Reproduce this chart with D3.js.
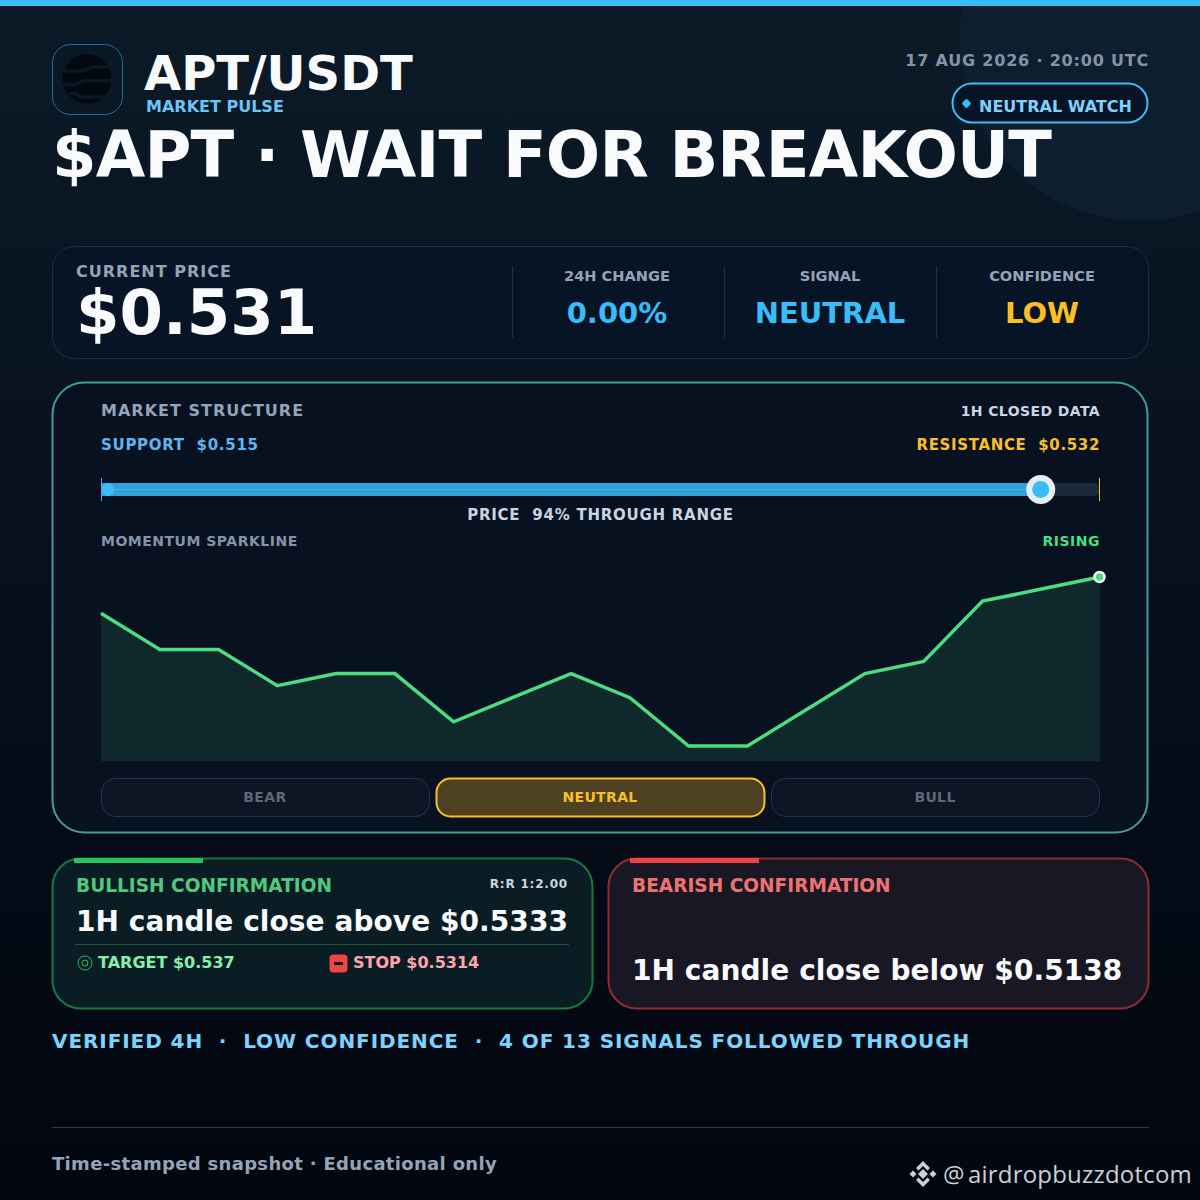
<!DOCTYPE html>
<html>
<head>
<meta charset="utf-8">
<style>
html, body { margin: 0; padding: 0; background: #02060f; }
svg { display: block; }
text { font-family: "DejaVu Sans", sans-serif; font-weight: 700; }
</style>
<script src="https://cdn.jsdelivr.net/npm/d3@7/dist/d3.min.js"></script>
</head>
<body>
<div id="chart"></div>
<script>
"use strict";
const width = 1200, height = 1200;

// values
const momentum = [0.5295, 0.528, 0.528, 0.5265, 0.527, 0.527, 0.525, 0.526, 0.527,
                  0.526, 0.524, 0.524, 0.5255, 0.527, 0.5275, 0.53, 0.5305, 0.531];
const support = 0.515;
const resistance = 0.532;
const price = 0.531;

const statLabels = ["24H CHANGE", "SIGNAL", "CONFIDENCE"];
const statValues = ["0.00%", "NEUTRAL", "LOW"];
const statColors = ["#38bdf8", "#38bdf8", "#fbbf24"];
const statX = [617, 830, 1042];

const signalLabels = ["BEAR", "NEUTRAL", "BULL"];
const signalActive = [false, true, false];

const svg = d3.select("#chart").append("svg")
    .attr("width", width)
    .attr("height", height);

const defs = svg.append("defs");

const bg = defs.append("linearGradient").attr("id", "bg")
    .attr("x1", 0).attr("y1", 0).attr("x2", 0).attr("y2", 1);
bg.append("stop").attr("offset", "0%").attr("stop-color", "#0c1a28");
bg.append("stop").attr("offset", "45%").attr("stop-color", "#07101d");
bg.append("stop").attr("offset", "100%").attr("stop-color", "#02060f");

const frame = defs.append("linearGradient").attr("id", "frame")
    .attr("x1", 0).attr("y1", 0).attr("x2", 0).attr("y2", 1);
frame.append("stop").attr("offset", "0%").attr("stop-color", "#3f9c9c");
frame.append("stop").attr("offset", "100%").attr("stop-color", "#4a9a94");

function label(g, x, y, str, size, fill, opts = {}) {
    return g.append("text")
        .attr("x", x)
        .attr("y", y)
        .attr("font-size", size)
        .attr("fill", fill)
        .attr("text-anchor", opts.anchor || "start")
        .attr("letter-spacing", opts.spacing || 0)
        .style("font-family", opts.family || null)
        .style("font-weight", opts.weight || null)
        .style("white-space", "pre")
        .text(str);
}

function box(g, x, y, w, h, r, fill, stroke, sw = 1) {
    return g.append("rect")
        .attr("x", x + 0.5).attr("y", y + 0.5)
        .attr("width", w).attr("height", h)
        .attr("rx", r)
        .attr("fill", fill)
        .attr("stroke", stroke)
        .attr("stroke-width", sw);
}

// background
svg.append("rect").attr("width", width).attr("height", height).attr("fill", "url(#bg)");
svg.append("circle").attr("cx", 1140).attr("cy", 40).attr("r", 181).attr("fill", "#0d1f2f");
svg.append("rect").attr("width", width).attr("height", 6).attr("fill", "#38bdf8");

// header
const header = svg.append("g");
box(header, 52, 44, 70, 70, 18, "#0a1725", "#1f6f9c");
const logo = header.append("g");
logo.append("circle").attr("cx", 87).attr("cy", 79).attr("r", 24.5).attr("fill", "#03070f");
// wavy cuts across the coin
for (const d of ["M60,71H84L91,67H114", "M60,84.5H76L83,80.5H114", "M68,93.5H76L80,97H108"]) {
    logo.append("path").attr("d", d)
        .attr("fill", "none")
        .attr("stroke", "#0a1725")
        .attr("stroke-width", 3.5);
}
label(header, 144, 90, "APT/USDT", 48, "#f8fafc");
label(header, 146, 112, "MARKET PULSE", 16, "#6cc5f5");
label(header, 1149, 66, "17 AUG 2026 · 20:00 UTC", 16, "#8493a8", {anchor: "end", spacing: 0.8});
box(header, 952, 83, 195, 39, 19.5, "#071425", "#38bdf8", 2);
header.append("rect").attr("x", 963).attr("y", 100).attr("width", 7).attr("height", 7)
    .attr("rx", 1.5)
    .attr("fill", "#38bdf8")
    .attr("transform", "rotate(45 966.5 103.5)");
label(header, 979, 112, "NEUTRAL WATCH", 16, "#7dd3fc");
label(header, 52, 177, "$APT · WAIT FOR BREAKOUT", 64, "#f8fafc", {spacing: -0.8});

// stats row
const stats = svg.append("g");
box(stats, 52, 246, 1096, 112, 22, "#071425", "#1b3047");
label(stats, 76, 277, "CURRENT PRICE", 16, "#94a3b8", {spacing: 1});
label(stats, 76, 334, "$" + price.toFixed(3), 62.5, "#f8fafc");
for (const x of [512, 724, 936]) {
    stats.append("line").attr("x1", x + 0.5).attr("x2", x + 0.5).attr("y1", 266).attr("y2", 338)
        .attr("stroke", "#1b3047");
}
statLabels.forEach((d, i) => {
    label(stats, statX[i], 281, d, 14.6, "#94a3b8", {anchor: "middle"});
    label(stats, statX[i], 323, statValues[i], 29, statColors[i], {anchor: "middle"});
});

// market structure panel
const panel = svg.append("g");
box(panel, 52, 382, 1095, 450, 32, "#07111f", "url(#frame)", 2);
label(panel, 101, 416, "MARKET STRUCTURE", 16, "#94a3b8", {spacing: 1});
label(panel, 1100, 416, "1H CLOSED DATA", 14, "#cbd5e1", {anchor: "end", spacing: 0.4});
label(panel, 101, 450, "SUPPORT  $" + support.toFixed(3), 15, "#60b5f0", {spacing: 0.7});
label(panel, 1100, 450, "RESISTANCE  $" + resistance.toFixed(3), 15, "#fbbf24", {anchor: "end", spacing: 0.65});

// range slider
const xRange = d3.scaleLinear().domain([support, resistance]).range([101, 1100]);
const trackY = 489.5;
panel.append("rect")
    .attr("x", xRange(support)).attr("y", trackY - 6.5)
    .attr("width", xRange(resistance) - xRange(support)).attr("height", 13)
    .attr("rx", 6)
    .attr("fill", "#1a2a3c");
panel.append("rect")
    .attr("x", xRange(support)).attr("y", trackY - 6.5)
    .attr("width", xRange(price) - xRange(support)).attr("height", 13)
    .attr("fill", "#32a0da");
panel.append("line")
    .attr("x1", xRange(support)).attr("x2", xRange(price))
    .attr("y1", trackY).attr("y2", trackY)
    .attr("stroke", "#45b4ec");
panel.append("line")
    .attr("x1", xRange(support) + 0.5).attr("x2", xRange(support) + 0.5)
    .attr("y1", 478).attr("y2", 501)
    .attr("stroke", "#60a5fa");
panel.append("line")
    .attr("x1", xRange(resistance) - 0.5).attr("x2", xRange(resistance) - 0.5)
    .attr("y1", 478).attr("y2", 501)
    .attr("stroke", "#fbbf24");
panel.append("circle").attr("cx", xRange(support) + 7).attr("cy", trackY).attr("r", 6.5).attr("fill", "#38bdf8");
panel.append("circle").attr("cx", xRange(price) - 0.5).attr("cy", trackY).attr("r", 14.5).attr("fill", "#e8edf4");
panel.append("circle").attr("cx", xRange(price) - 0.5).attr("cy", trackY).attr("r", 8.5).attr("fill", "#38bdf8");
const pct = Math.round((price - support) / (resistance - support) * 100);
label(panel, 600.5, 520, `PRICE  ${pct}% THROUGH RANGE`, 15, "#cbd5e1", {anchor: "middle", spacing: 0.75});

// sparkline
label(panel, 101, 546, "MOMENTUM SPARKLINE", 14, "#8493a8", {spacing: 0.5});
label(panel, 1100, 546, "RISING", 14, "#4ade80", {anchor: "end", spacing: 0.5});
const xSpark = d3.scalePoint().domain(d3.range(momentum.length)).range([101, 1100]);
const ySpark = d3.scaleLinear().domain([d3.min(momentum), d3.max(momentum)]).range([746, 577]);
const area = d3.area().x((d, i) => xSpark(i)).y0(761).y1(d => ySpark(d));
const line = d3.line().x((d, i) => xSpark(i)).y(d => ySpark(d));
panel.append("path").attr("d", area(momentum)).attr("fill", "#0f282c");
panel.append("path").attr("d", line(momentum))
    .attr("fill", "none")
    .attr("stroke", "#4ade80")
    .attr("stroke-width", 3.5);
const last = momentum.length - 1;
panel.append("circle").attr("cx", xSpark(last) - 0.5).attr("cy", ySpark(momentum[last]))
    .attr("r", 5).attr("fill", "#4ade80")
    .attr("stroke", "#f8fafc").attr("stroke-width", 2.5);

// signal buttons
const xButton = d3.scaleBand().domain(signalLabels).range([101, 1100]).paddingInner(0.0181);
signalLabels.forEach((d, i) => {
    const on = signalActive[i];
    box(panel, xButton(d), 778, xButton.bandwidth() - 1, 38, 14,
        on ? "#4d4122" : "#0e1423",
        on ? "#fbbf24" : "#24344a",
        on ? 2 : 1);
    label(panel, xButton(d) + xButton.bandwidth() / 2 - 0.5, 802, d, 14,
        on ? "#fbbf24" : "#5d6878", {anchor: "middle", spacing: 0.35});
});

// confirmation cards
const bull = svg.append("g");
box(bull, 52, 858, 540, 150, 28, "#0b1d24", "#17793f", 2);
bull.append("rect").attr("x", 74).attr("y", 858).attr("width", 129).attr("height", 5).attr("fill", "#22c55e");
label(bull, 76, 892, "BULLISH CONFIRMATION", 18.56, "#50c87e");
label(bull, 568, 888, "R:R 1:2.00", 12, "#cbd5e1", {anchor: "end", spacing: 0.8});
label(bull, 76, 931, "1H candle close above $0.5333", 28, "#f8fafc", {spacing: 0.07});
bull.append("line").attr("x1", 75).attr("x2", 569).attr("y1", 944.5).attr("y2", 944.5).attr("stroke", "#17583a");
const target = bull.append("g").attr("fill", "none").attr("stroke", "#22c55e");
target.append("circle").attr("cx", 85).attr("cy", 963).attr("r", 7);
target.append("circle").attr("cx", 85).attr("cy", 963).attr("r", 3);
label(bull, 98, 968, "TARGET $0.537", 16, "#86efac");
box(bull, 329, 954, 18, 18, 4, "#ef4444", "none");
bull.append("rect").attr("x", 334).attr("y", 962).attr("width", 9).attr("height", 3).attr("fill", "#0b1d24");
label(bull, 353, 968, "STOP $0.5314", 16, "#fda4af");

const bear = svg.append("g");
box(bear, 608, 858, 540, 150, 28, "#1a1725", "#8e2b35", 2);
bear.append("rect").attr("x", 630).attr("y", 858).attr("width", 129).attr("height", 5).attr("fill", "#ef4444");
label(bear, 632, 892, "BEARISH CONFIRMATION", 18.56, "#ee7272");
label(bear, 632, 980, "1H candle close below $0.5138", 28, "#f8fafc", {spacing: 0.07});

// track record
label(svg, 52, 1048, "VERIFIED 4H  ·  LOW CONFIDENCE  ·  4 OF 13 SIGNALS FOLLOWED THROUGH", 20, "#7dd3fc", {spacing: 0.92});

// footer
svg.append("line").attr("x1", 52).attr("x2", 1149).attr("y1", 1127.5).attr("y2", 1127.5).attr("stroke", "#2a3a55");
label(svg, 52, 1170, "Time-stamped snapshot · Educational only", 18, "#94a3b8", {spacing: 0.32});
const mark = svg.append("g").attr("fill", "#c8d0dc").attr("transform", "translate(923,1174)");
for (const [dx, dy, s] of [[0, 0, 3.5], [-10, 0, 2.5], [10, 0, 2.5]]) {
    mark.append("rect").attr("x", dx - s).attr("y", dy - s).attr("width", 2 * s).attr("height", 2 * s)
        .attr("transform", `rotate(45 ${dx} ${dy})`);
}
mark.append("path").attr("d", "M0,-13L7,-6L4.5,-3.5L0,-8L-4.5,-3.5L-7,-6Z");
mark.append("path").attr("d", "M0,13L7,6L4.5,3.5L0,8L-4.5,3.5L-7,6Z");
label(svg, 943, 1183, "@", 24, "#c8d0dc", {family: '"Open Sans", sans-serif', weight: 400});
label(svg, 968, 1183, "airdropbuzzdotcom", 24, "#c8d0dc", {family: '"Open Sans", sans-serif', weight: 400, spacing: 0.2});
</script>
</body>
</html>
